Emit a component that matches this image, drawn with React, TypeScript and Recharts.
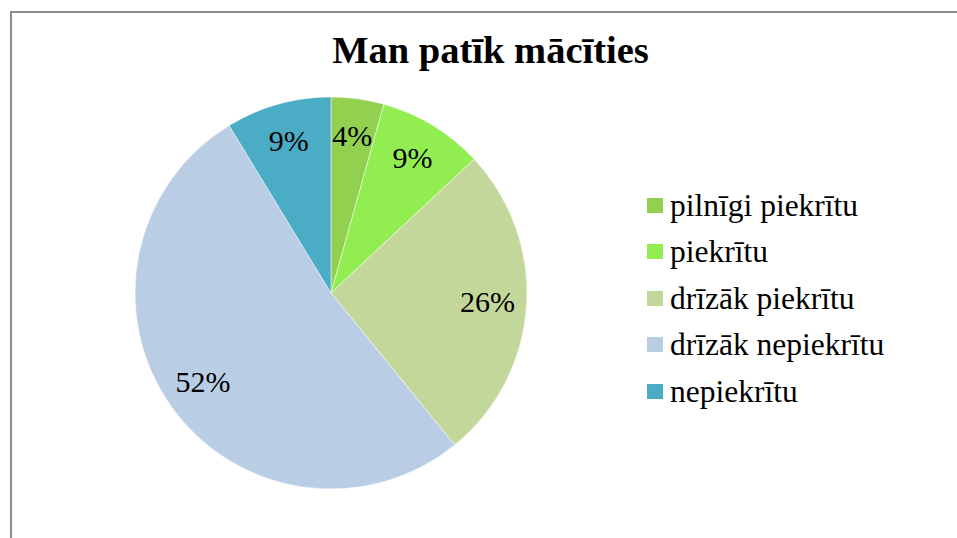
import React from 'react';
import { PieChart, Pie, Cell, Legend } from 'recharts';

const categories = ['pilnīgi piekrītu', 'piekrītu', 'drīzāk piekrītu', 'drīzāk nepiekrītu', 'nepiekrītu'];
const counts = [1, 2, 6, 12, 2];
const COLORS = ['#92D050', '#92EE50', '#C4D79B', '#B9CDE5', '#4BACC6'];

const data = categories.map((name, i) => ({ name, value: counts[i] }));

const FONT = '"Liberation Serif", "Times New Roman", serif';
const RADIAN = Math.PI / 180;

const renderLabel = (props: any) => {
    const { cx, cy, midAngle, outerRadius, percent } = props;
    const r = outerRadius * 0.8;
    const x = cx + r * Math.cos(-midAngle * RADIAN);
    const y = cy + r * Math.sin(-midAngle * RADIAN) - 2;
    return (
        <text x={x} y={y} textAnchor="middle" dominantBaseline="central" fill="#000" style={{ fontFamily: FONT, fontSize: 30 }}>
            {`${Math.round(percent * 100)}%`}
        </text>
    );
};

const renderLegend = () => (
    <div style={{ fontFamily: FONT, fontSize: 31.5, color: '#000' }}>
        {categories.map((name, i) => (
            <div key={name} style={{ display: 'flex', alignItems: 'center', height: 46.5 }}>
                <span style={{ display: 'inline-block', width: 16, height: 15, background: COLORS[i], marginRight: 7 }} />
                <span style={{ lineHeight: '31px' }}>{name}</span>
            </div>
        ))}
    </div>
);

export default function App() {
    return (
        <div style={{ position: 'absolute', left: 0, top: 0, width: 957, height: 538, overflow: 'hidden', background: '#fff' }}>
            <div style={{ position: 'absolute', left: 10, top: 11, width: 1000, height: 600, borderLeft: '2px solid #8c8c8c', borderTop: '2px solid #8c8c8c' }} />
            <div style={{ position: 'absolute', left: 0, top: 24, width: 981, textAlign: 'center', fontFamily: FONT, fontWeight: 'bold', fontSize: 38.5, lineHeight: '52px', color: '#000' }}>
                Man patīk mācīties
            </div>
            <div style={{ position: 'absolute', left: 0, top: 0 }}>
                <PieChart width={957} height={538} margin={{ top: 0, right: 0, bottom: 0, left: 0 }}>
                    <Pie
                        data={data}
                        dataKey="value"
                        nameKey="name"
                        cx={331}
                        cy={293}
                        outerRadius={196}
                        startAngle={90}
                        endAngle={-270}
                        stroke="#ffffff"
                        strokeWidth={0.5}
                        labelLine={false}
                        label={renderLabel}
                        isAnimationActive={false}
                    >
                        {data.map((entry, index) => (
                            <Cell key={`cell-${index}`} fill={COLORS[index]} />
                        ))}
                    </Pie>
                    <Legend
                        layout="vertical"
                        content={renderLegend}
                        wrapperStyle={{ left: 647, top: 182, width: 300, bottom: 'auto' }}
                    />
                </PieChart>
            </div>
        </div>
    );
}
